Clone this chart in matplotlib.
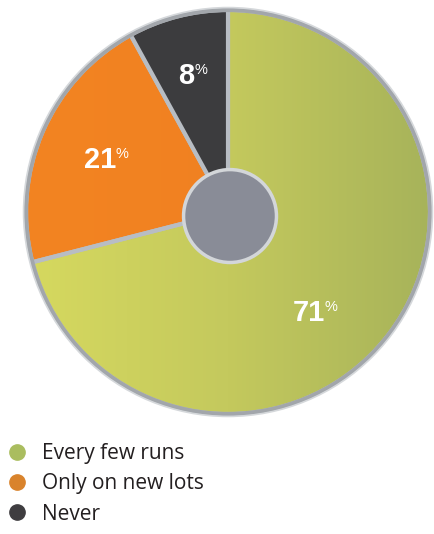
import numpy as np
import matplotlib
matplotlib.use("Agg")
import matplotlib.pyplot as plt
from matplotlib.colors import LinearSegmentedColormap
from matplotlib.lines import Line2D
from matplotlib.patches import Circle

categories = ["Every few runs", "Only on new lots", "Never"]
values = [71, 21, 8]
labels = ["71", "21", "8"]
legend_colors = ["#aabd5f", "#d9832c", "#3f3d40"]
slice_colors = ["#bcc45e", "#f08021", "#3c3c3e"]

W, H = 434, 534
fig = plt.figure(figsize=(W / 100, H / 100), dpi=100)
fig.patch.set_facecolor("white")

cx, cy, r = 228, 212, 202
pad = 6
ax = fig.add_axes([(cx - r - pad) / W, 1 - (cy + r + pad) / H,
                   2 * (r + pad) / W, 2 * (r + pad) / H])
lim = (r + pad) / r
ax.set_xlim(-lim, lim)
ax.set_ylim(-lim, lim)
ax.set_aspect("equal")
ax.axis("off")

wedges, _ = ax.pie(values, colors=slice_colors, startangle=90, counterclock=False,
                   radius=1.0,
                   wedgeprops=dict(edgecolor="#b8bdc3", linewidth=3.0))

# gradient fills
grads = {
    0: ["#d6d95f", "#c4c95d", "#a7b35a"],
    1: ["#f38422", "#ee7e20"],
}
g = np.linspace(0, 1, 256).reshape(1, -1)
for i, cols in grads.items():
    w = wedges[i]
    cmap = LinearSegmentedColormap.from_list(f"g{i}", cols)
    im = ax.imshow(g, extent=[-1, 1, -1, 1], cmap=cmap, aspect="auto",
                   zorder=0.5, interpolation="bilinear")
    im.set_clip_path(w)
    w.set_facecolor("none")

ax.set_xlim(-lim, lim)
ax.set_ylim(-lim, lim)

# outer ring
ax.add_patch(Circle((0, 0), 1.0, facecolor="none", edgecolor="#a2a6ab",
                    linewidth=3.0, zorder=3))
ax.add_patch(Circle((0, 0), 1.012, facecolor="none", edgecolor="#d5d8db",
                    linewidth=1.2, zorder=3))
# centre hub
ax.add_patch(Circle((0.01, -0.02), 0.23, facecolor="#898c97", edgecolor="#d3d6d9",
                    linewidth=2.5, zorder=4))

# labels
label_pos = [(0.48, -0.50), (-0.555, 0.255), (-0.165, 0.675)]
for (x, y), t in zip(label_pos, labels):
    ax.text(x, y, t, color="white", fontsize=21, fontweight="bold",
            family="Liberation Sans", ha="right", va="center", zorder=5)
    ax.text(x - 0.002, y + 0.03, "%", color="white", fontsize=10.5,
            family="Liberation Sans", ha="left", va="center", zorder=5)

# legend
handles = [Line2D([], [], linestyle="none", marker="o", markersize=11,
                  markerfacecolor=c, markeredgecolor=c) for c in legend_colors]
fig.legend(handles, categories, loc="upper left",
           bbox_to_anchor=(-2 / W, 1 - 435 / H), frameon=False,
           prop=dict(family="Open Sans", size=15), handlelength=1.0,
           handletextpad=0.7, labelspacing=0.44, borderaxespad=0,
           labelcolor="#231f20")

fig.savefig("out.png", dpi=100, facecolor="white")
